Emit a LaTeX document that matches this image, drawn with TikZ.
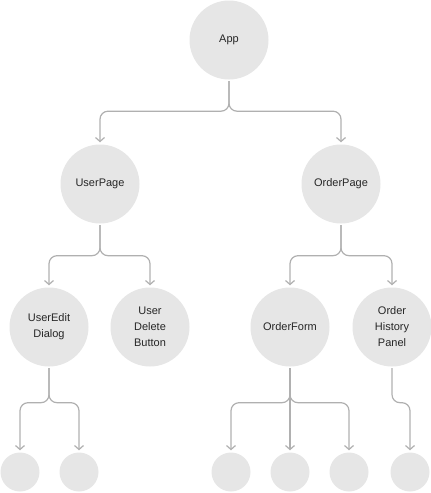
\documentclass[tikz,border=0pt]{standalone}
\usepackage{fontspec}
\setmainfont{Liberation Sans}
\usetikzlibrary{positioning,arrows.meta}
\definecolor{bubble}{HTML}{E6E6E6}
\definecolor{wire}{HTML}{B0B0B0}
\definecolor{ink}{HTML}{262626}

\tikzset{
  comp/.style={circle,fill=bubble,minimum size=79pt,inner sep=0pt,align=center,
    text=ink,font=\fontsize{11}{16}\selectfont},
  leaf/.style={circle,fill=bubble,minimum size=39pt,inner sep=0pt},
  link/.style={draw=wire,line width=1.2pt,rounded corners=8pt,
    -{Straight Barb[length=4pt,width=9pt]},shorten >=2pt,shorten <=1.5pt},
}

\begin{document}
\begin{tikzpicture}[x=1pt,y=1pt]
      \useasboundingbox (0,0) rectangle (431,-493);
      % components
      \node[comp] (app) at (229,-40) {App};
      \node[comp] (userpage) at (100,-184) {UserPage};
      \node[comp] (orderpage) at (341,-184) {OrderPage};
      \node[comp] (usereditdlg) at (49,-327) {UserEdit\\Dialog};
      \node[comp] (userdelbtn) at (150,-327) {User\\Delete\\Button};
      \node[comp] (orderform) at (290,-327) {OrderForm};
      \node[comp] (orderhist) at (392,-327) {Order\\History\\Panel};
      % leaves
      \node[leaf] (leafa) at (20,-472) {};
      \node[leaf] (leafb) at (79,-472) {};
      \node[leaf] (leafc) at (231,-472) {};
      \node[leaf] (leafd) at (290,-472) {};
      \node[leaf] (leafe) at (349,-472) {};
      \node[leaf] (leaff) at (410,-472) {};
      % wires
      \draw[link] (app.south) -- ++(0,-31.5) -| (userpage.north);
      \draw[link] (app.south) -- ++(0,-31.5) -| (orderpage.north);
      \draw[link] (userpage.south) -- ++(0,-32) -| (usereditdlg.north);
      \draw[link] (userpage.south) -- ++(0,-32) -| (userdelbtn.north);
      \draw[link] (orderpage.south) -- ++(0,-32) -| (orderform.north);
      \draw[link] (orderpage.south) -- ++(0,-32) -| (orderhist.north);
      \draw[link] (usereditdlg.south) -- ++(0,-36) -| (leafa.north);
      \draw[link] (usereditdlg.south) -- ++(0,-36) -| (leafb.north);
      \draw[link] (orderform.south) -- ++(0,-36) -| (leafc.north);
      \draw[link] (orderform.south) -- (leafd.north);
      \draw[link] (orderform.south) -- ++(0,-36) -| (leafe.north);
      \draw[link] (orderhist.south) -- ++(0,-36) -| (leaff.north);
    \end{tikzpicture}
\end{document}
